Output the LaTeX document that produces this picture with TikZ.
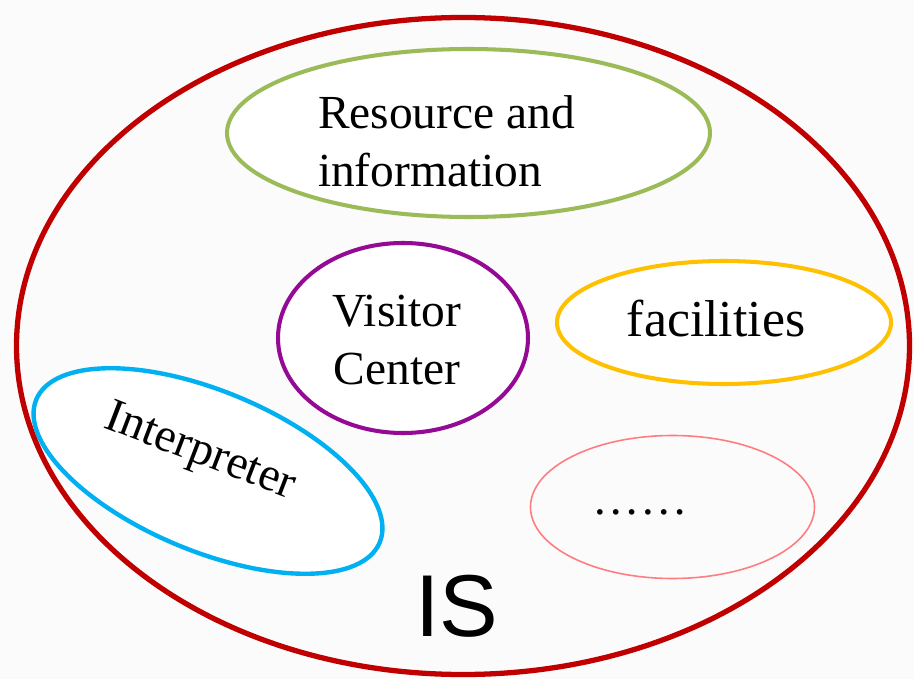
\documentclass[tikz,border=0pt]{standalone}
\usepackage{fontspec}
\setmainfont{Liberation Serif}
\newfontfamily\isfont{Liberation Sans}
\definecolor{isred}{HTML}{C00000}
\definecolor{resgreen}{HTML}{9BBB59}
\definecolor{vcpurple}{HTML}{940A94}
\definecolor{facorange}{HTML}{FFC000}
\definecolor{intblue}{HTML}{00B0F0}
\definecolor{otherpink}{HTML}{FF7C80}
\definecolor{bgpat}{HTML}{FBFBFB}
\begin{document}
\begin{tikzpicture}[x=0.02cm,y=-0.02cm,
  lbl/.style={inner sep=0pt,font=\fontsize{27}{33}\selectfont},
  ring/.style={line width=2.3pt}]
\fill[bgpat] (0,0) rectangle (914,679);
\useasboundingbox (0,0) rectangle (914,679);
% outer IS ellipse
\draw[isred,line width=3pt] (463,346) ellipse [x radius=446.5, y radius=328.5];
% inner ellipses
\draw[ring,resgreen,fill=white] (468.5,133) ellipse [x radius=241.5, y radius=84];
\draw[ring,vcpurple,fill=white] (403,338) ellipse [x radius=125, y radius=95];
\draw[ring,facorange,fill=white] (724,322.5) ellipse [x radius=167, y radius=61.5];
\draw[line width=2.5pt,intblue,fill=white,rotate around={-22.6:(208,471)}] (208,471) ellipse [x radius=186, y radius=80];
\draw[otherpink,line width=0.9pt] (672.5,507) ellipse [x radius=142, y radius=71.5];
% labels
\node[lbl,align=left] (res) at (446.5,141) {Resource and\\information};
\node[lbl,align=center] (vc) at (397,340) {Visitor\\Center};
\node[lbl,anchor=base,font=\fontsize{29.5}{36}\selectfont] (fac) at (716,337) {facilities};
\node[lbl,anchor=base,rotate=-21] (int) at (196,463) {Interpreter};
\node[lbl,anchor=base] (etc) at (640,514) {……};
\node[inner sep=0pt,anchor=base,font=\isfont\fontsize{50}{60}\selectfont] (is) at (457,636) {IS};
\end{tikzpicture}
\end{document}
